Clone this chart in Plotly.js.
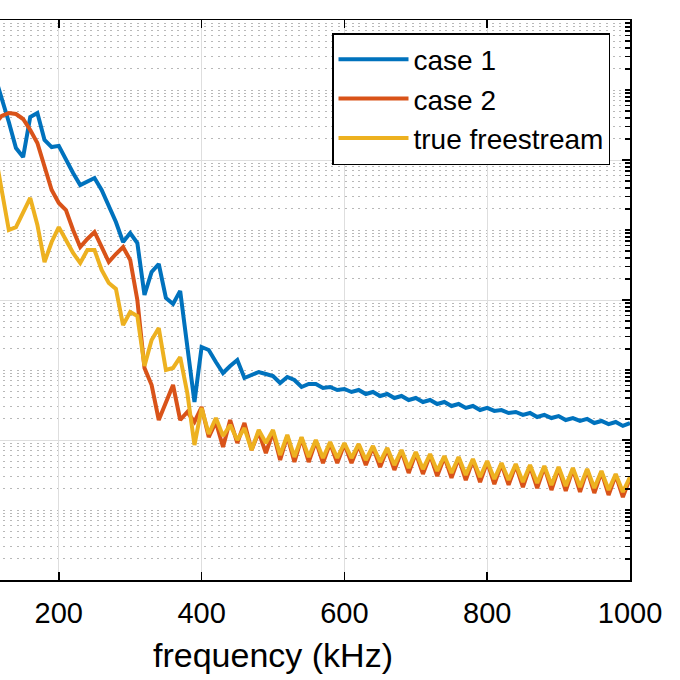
<!DOCTYPE html>
<html>
<head>
<meta charset="utf-8">
<script src="https://cdn.plot.ly/plotly-3.0.1.min.js"></script>
<style>
  html, body { margin: 0; padding: 0; background: #fff; overflow: hidden; width: 680px; height: 680px; }
  /* the figure is cropped on the left, so the plot div starts off-screen */
  #chart { position: absolute; left: -150px; top: 0; width: 830px; height: 680px; }
</style>
</head>
<body>
<div id="chart"></div>
<script>
// ── Data ─────────────────────────────────────────────────────
const FREQ = [
  110, 120, 130, 140, 150, 160, 170, 180, 190, 200,
  210, 220, 230, 240, 250, 260, 270, 280, 290, 300,
  310, 320, 330, 340, 350, 360, 370, 380, 390, 400,
  410, 420, 430, 440, 450, 460, 470, 480, 490, 500,
  510, 520, 530, 540, 550, 560, 570, 580, 590, 600,
  610, 620, 630, 640, 650, 660, 670, 680, 690, 700,
  710, 720, 730, 740, 750, 760, 770, 780, 790, 800,
  810, 820, 830, 840, 850, 860, 870, 880, 890, 900,
  910, 920, 930, 940, 950, 960, 970, 980, 990, 1000,
];

const CASE1 = [
  1.64e-3, 7.94e-4, 3.49e-4, 1.48e-4, 1.10e-4, 4.12e-4, 4.69e-4, 1.93e-4, 1.53e-4, 1.59e-4,
  1.00e-4, 6.52e-5, 4.39e-5, 5.01e-5, 5.53e-5, 3.73e-5, 2.28e-5, 1.30e-5, 6.74e-6, 9.06e-6,
  6.52e-6, 1.18e-6, 2.51e-6, 3.27e-6, 1.07e-6, 8.77e-7, 1.35e-6, 2.06e-7, 3.49e-8, 2.13e-7,
  1.93e-7, 1.30e-7, 9.06e-8, 1.14e-7, 1.39e-7, 7.69e-8, 8.48e-8, 9.36e-8, 8.77e-8, 8.21e-8,
  6.52e-8, 7.94e-8, 7.20e-8, 5.72e-8, 6.31e-8, 6.31e-8, 5.53e-8, 5.72e-8, 5.18e-8, 5.35e-8,
  4.85e-8, 5.18e-8, 4.54e-8, 4.85e-8, 4.25e-8, 4.54e-8, 3.98e-8, 4.25e-8, 3.73e-8, 3.98e-8,
  3.49e-8, 3.73e-8, 3.27e-8, 3.49e-8, 3.06e-8, 3.27e-8, 2.87e-8, 3.06e-8, 2.68e-8, 2.87e-8,
  2.60e-8, 2.68e-8, 2.43e-8, 2.51e-8, 2.28e-8, 2.43e-8, 2.13e-8, 2.28e-8, 2.06e-8, 2.20e-8,
  1.93e-8, 2.06e-8, 1.87e-8, 2.00e-8, 1.75e-8, 1.87e-8, 1.69e-8, 1.81e-8, 1.59e-8, 1.75e-8,
];

const CASE2 = [
  3.27e-4, 4.25e-4, 4.69e-4, 4.54e-4, 3.85e-4, 2.68e-4, 1.75e-4, 8.48e-5, 3.73e-5, 2.43e-5,
  1.93e-5, 1.00e-5, 5.72e-6, 7.44e-6, 9.36e-6, 5.72e-6, 3.49e-6, 4.54e-6, 5.72e-6, 3.73e-6,
  1.00e-6, 1.07e-7, 6.11e-8, 1.93e-8, 3.49e-8, 6.11e-8, 1.93e-8, 2.51e-8, 1.81e-8, 2.96e-8,
  1.10e-8, 1.81e-8, 7.94e-9, 1.93e-8, 9.06e-9, 1.75e-8, 7.20e-9, 1.30e-8, 6.52e-9, 1.30e-8,
  5.18e-9, 1.14e-8, 4.85e-9, 1.07e-8, 4.85e-9, 9.68e-9, 4.69e-9, 9.06e-9, 4.69e-9, 8.77e-9,
  4.69e-9, 8.48e-9, 4.39e-9, 7.94e-9, 4.12e-9, 7.44e-9, 3.73e-9, 6.96e-9, 3.38e-9, 6.52e-9,
  3.27e-9, 6.11e-9, 3.06e-9, 5.72e-9, 2.87e-9, 5.53e-9, 2.68e-9, 5.18e-9, 2.51e-9, 4.85e-9,
  2.35e-9, 4.54e-9, 2.28e-9, 4.39e-9, 2.13e-9, 4.25e-9, 2.06e-9, 4.12e-9, 1.93e-9, 3.98e-9,
  1.87e-9, 3.85e-9, 1.81e-9, 3.73e-9, 1.75e-9, 3.49e-9, 1.64e-9, 3.16e-9, 1.53e-9, 2.87e-9,
];

const FREESTREAM = [
  1.39e-4, 3.73e-5, 1.00e-5, 1.10e-5, 1.81e-5, 2.87e-5, 1.18e-5, 3.49e-6, 6.74e-6, 1.10e-5,
  7.20e-6, 4.69e-6, 3.38e-6, 5.18e-6, 5.18e-6, 2.68e-6, 1.75e-6, 1.44e-6, 4.39e-7, 6.74e-7,
  5.91e-7, 1.14e-7, 2.68e-7, 3.98e-7, 1.00e-7, 1.07e-7, 1.53e-7, 4.69e-8, 8.48e-9, 2.87e-8,
  1.22e-8, 2.06e-8, 1.14e-8, 1.64e-8, 1.00e-8, 1.48e-8, 7.20e-9, 1.39e-8, 9.06e-9, 1.39e-8,
  6.11e-9, 1.18e-8, 5.72e-9, 1.10e-8, 5.72e-9, 1.00e-8, 5.53e-9, 9.36e-9, 5.53e-9, 9.06e-9,
  5.53e-9, 8.77e-9, 5.18e-9, 8.21e-9, 4.85e-9, 7.69e-9, 4.39e-9, 7.20e-9, 3.98e-9, 6.74e-9,
  3.85e-9, 6.31e-9, 3.61e-9, 5.91e-9, 3.38e-9, 5.72e-9, 3.16e-9, 5.35e-9, 2.96e-9, 5.01e-9,
  2.77e-9, 4.69e-9, 2.68e-9, 4.54e-9, 2.51e-9, 4.39e-9, 2.43e-9, 4.25e-9, 2.28e-9, 4.12e-9,
  2.20e-9, 3.98e-9, 2.13e-9, 3.85e-9, 2.06e-9, 3.61e-9, 1.93e-9, 3.27e-9, 1.81e-9, 2.96e-9,
];

// 0 kHz sits off-screen on the cropped left side, so it gets no label
const X_TICKS = [200, 400, 600, 800, 1000];
const SERIES_NAMES = ['case 1', 'case 2', 'true freestream'];

// ── Style ────────────────────────────────────────────────────
const C = {
  blue:   '#0072BD',
  orange: '#D95319',
  yellow: '#EDB120',
  axis:   '#000000',
  grid:   '#dedede',
  minor:  '#b8b8b8',
};
const FONT = 'Liberation Sans, Arial, Helvetica, sans-serif';

const line = (y, name, color) => ({
  type: 'scatter',
  mode: 'lines',
  x: FREQ,
  y,
  name,
  line: { color, width: 4 },
});

const traces = [
  line(CASE1, SERIES_NAMES[0], C.blue),
  line(CASE2, SERIES_NAMES[1], C.orange),
  line(FREESTREAM, SERIES_NAMES[2], C.yellow),
];

const layout = {
  width: 830,
  height: 680,
  paper_bgcolor: '#fff',
  plot_bgcolor: '#fff',
  font: { family: FONT, color: '#000', size: 29 },
  margin: { l: 66, r: 50, t: 20, b: 100 },
  showlegend: true,
  xaxis: {
    range: [0, 1000],
    tickvals: X_TICKS,
    ticks: 'inside',
    ticklen: 8,
    tickwidth: 1.5,
    tickcolor: C.axis,
    ticklabelstandoff: 7,
    showline: true,
    linewidth: 1.5,
    linecolor: C.axis,
    mirror: 'ticks',
    showgrid: true,
    gridcolor: C.grid,
    gridwidth: 1,
    zeroline: false,
    tickfont: { size: 29, family: FONT },
    title: { text: 'frequency (kHz)', font: { size: 34, family: FONT }, standoff: 15 },
  },
  yaxis: {
    type: 'log',
    range: [-10, -2],
    dtick: 2,
    ticks: 'inside',
    ticklen: 8,
    tickwidth: 1.5,
    tickcolor: C.axis,
    showticklabels: false,
    showline: true,
    linewidth: 1.5,
    linecolor: C.axis,
    mirror: 'ticks',
    showgrid: true,
    gridcolor: C.grid,
    gridwidth: 1,
    zeroline: false,
    minor: {
      dtick: 'D1',
      ticks: 'inside',
      ticklen: 5,
      tickwidth: 1.5,
      tickcolor: C.axis,
      showgrid: true,
      gridcolor: C.minor,
      gridwidth: 1,
      griddash: '2px,4.7px',
    },
  },
  legend: {
    x: (332 + 84) / 714,
    y: (580 - 33) / 560,
    xanchor: 'left',
    yanchor: 'top',
    bgcolor: '#fff',
    bordercolor: '#000',
    borderwidth: 1.5,
    font: { size: 28, family: FONT, color: '#000' },
    itemwidth: 70,
    tracegroupgap: 0,
  },
};

Plotly.newPlot('chart', traces, layout, { staticPlot: true, displayModeBar: false });
</script>
</body>
</html>
